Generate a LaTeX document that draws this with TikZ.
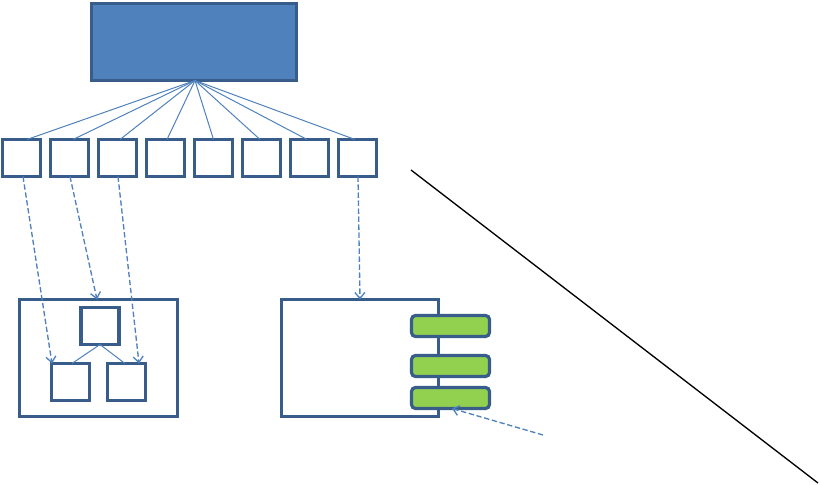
\documentclass[tikz,border=0pt]{standalone}
\usetikzlibrary{calc,arrows.meta}
\definecolor{bord}{HTML}{385D8A}
\definecolor{bfill}{HTML}{4F81BD}
\definecolor{gfill}{HTML}{92D050}
\definecolor{lblue}{HTML}{4F81BD}
\tikzset{
  box/.style={draw=bord,line width=2.4pt,fill=white,inner sep=0pt,outer sep=0pt},
  topbox/.style={box,fill=bfill,minimum width=205*0.75pt,minimum height=77*0.75pt},
  sbox/.style={box,minimum width=38*0.75pt,minimum height=37*0.75pt},
  cont/.style={box,minimum width=158*0.75pt,minimum height=117*0.75pt},
  gbox/.style={box,fill=gfill,rounded corners=3pt,minimum width=78*0.75pt,minimum height=21*0.75pt},
  thinline/.style={draw=lblue,line width=0.75pt},
  dasharrow/.style={draw=lblue,line width=1pt,dash pattern=on 4pt off 2pt,-{Straight Barb[length=4.5pt,width=7.5pt]}},
}
\begin{document}
\begin{tikzpicture}[x=0.75pt,y=-0.75pt]
\useasboundingbox (0,0) rectangle (821,485);
\node[topbox] (top) at (194,42) {};
\foreach \i in {1,...,8}{
  \node[sbox] (b\i) at ({21.5+48*(\i-1)},158) {};
}
\foreach \i/\s in {1/5.5,2/3.5,3/2.5,4/1.5,5/0,6/-1.5,7/-2.5,8/-2.5}{
  \draw[thinline] ($(top.south)+(1,0)$) -- ($(b\i.north)+(\s,0)$);
}
% left container
\node[cont] (lc) at (98.5,358) {};
\node[sbox] (it) at (100,326) {};
\node[sbox] (bl) at (70.5,382) {};
\node[sbox] (br) at (126.5,382) {};
\draw[thinline] (it.south) -- ($(bl.north)+(1.5,0)$);
\draw[thinline] (it.south) -- ($(br.north)+(-1.5,0)$);
% right container
\node[box,minimum width=157*0.75pt,minimum height=117*0.75pt] (rc) at (360,358) {};
\node[gbox] (g1) at (450.5,326) {};
\node[gbox] (g2) at (450.5,366) {};
\node[gbox] (g3) at (450.5,398) {};
% dashed arrows
\draw[dasharrow] ($(b1.south)+(1.5,0)$) -- ($(bl.north west)+(0.5,0)$);
\draw[dasharrow] ($(b2.south)+(0.5,0)$) -- ($(lc.north)+(-1.5,0)$);
\draw[dasharrow] ($(b3.south)+(0.5,0)$) -- ($(br.north)+(12.5,0)$);
\draw[dasharrow] ($(b8.south)+(0.5,0)$) -- ($(rc.north)+(0,0)$);
\coordinate (src) at (543,435);
\draw[dasharrow] (src) -- ($(g3.south)+(1.5,0)$);
% diagonal line
\coordinate (d1) at (411,170);
\coordinate (d2) at (818,483);
\draw[black,line width=1pt] (d1) -- (d2);
\end{tikzpicture}
\end{document}
